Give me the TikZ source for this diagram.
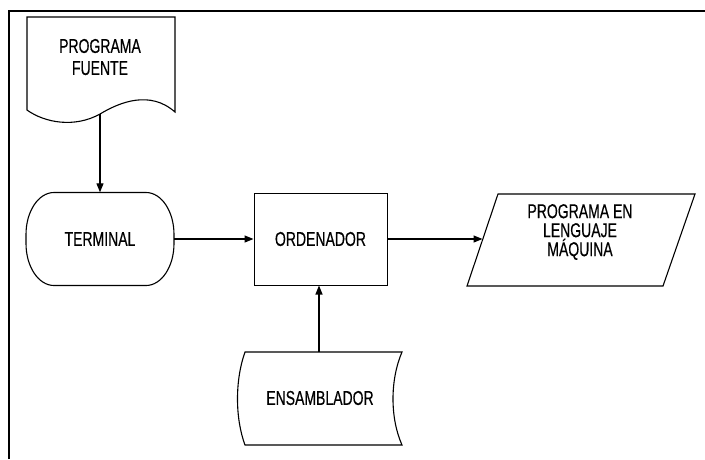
\documentclass[tikz,border=0pt]{standalone}
\usepackage{fontspec}
\setmainfont{Liberation Sans}[FakeStretch=0.7, FakeBold=0.4]
\usetikzlibrary{arrows.meta}
\begin{document}
\begin{tikzpicture}[x=1pt,y=-1pt,
  every node/.style={font=\fontsize{20pt}{22pt}\selectfont},
  box/.style={draw, line width=1pt, inner sep=0pt, align=center},
  outline/.style={draw, line width=1.1pt},
  label/.style={align=center, inner sep=0pt},
  conn/.style={line width=1.2pt, -{Triangle[length=9pt,width=7pt]}},
  frame/.style={line width=1.4pt}]
\useasboundingbox (0,0) rectangle (705,459);

% page frame (top and left edges)
\draw[frame] (9,459) -- (9,11) -- (705,11);

% source program: document symbol
\draw[outline] (27,110) -- (27,17) -- (175,17) -- (175,112)
  .. controls (150,90) and (120,102) .. (100,114)
  .. controls (75,128) and (45,123) .. (27,110) -- cycle;
\node[label] (fuente) at (100,57) {PROGRAMA\\FUENTE};
\coordinate (fuente-s) at (100,114);

% terminal: flat top and bottom, elliptic ends
\node[label, minimum width=148pt, minimum height=93pt] (terminal) at (100,239) {TERMINAL};
\draw[outline] (54,192.5) -- (146,192.5)
  .. controls (161.5,192.5) and (174,211.3) .. (174,234.5) -- (174,243.5)
  .. controls (174,266.7) and (161.5,285.5) .. (146,285.5) -- (54,285.5)
  .. controls (38.5,285.5) and (26,266.7) .. (26,243.5) -- (26,234.5)
  .. controls (26,211.3) and (38.5,192.5) .. (54,192.5) -- cycle;

% computer
\node[box, minimum width=133pt, minimum height=92pt] (ordenador) at (320.5,239) {ORDENADOR};

% machine-language program: data symbol
\draw[outline] (498,194) -- (695,194) -- (663,286) -- (467,286) -- cycle;
\node[label, font=\fontsize{20pt}{19pt}\selectfont] (salida) at (580,232) {PROGRAMA EN\\LENGUAJE\\MÁQUINA};
\coordinate (salida-w) at (482.5,239);

% assembler: stored data symbol
\draw[outline] (245,352) -- (402,352)
  .. controls (390,380) and (390,418) .. (402,445) -- (245,445)
  .. controls (235,418) and (235,380) .. (245,352) -- cycle;
\node[label] (ensamblador) at (320,398) {ENSAMBLADOR};
\coordinate (ensamblador-n) at (319,352);

% connectors
\draw[conn] (fuente-s) -- (terminal.north);
\draw[conn] (terminal.east) -- (ordenador.west);
\draw[conn] (ordenador.east) -- (salida-w);
\draw[conn] (ensamblador-n) -- (ensamblador-n |- ordenador.south);
\end{tikzpicture}
\end{document}
